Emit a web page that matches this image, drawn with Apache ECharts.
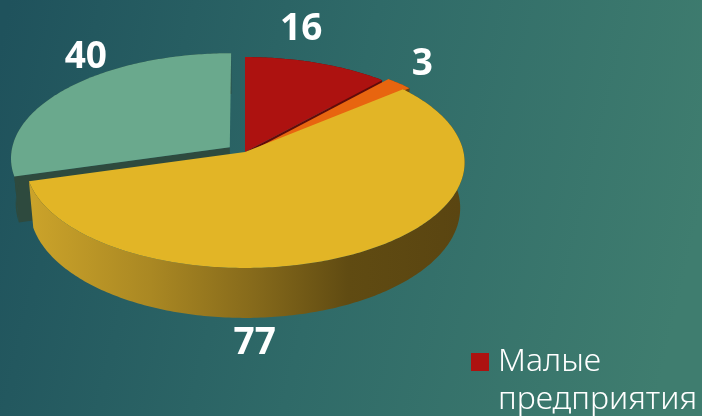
<!DOCTYPE html>
<html>
<head>
<meta charset="utf-8">
<style>html,body{margin:0;padding:0;background:#2f6a68}#c{width:702px;height:416px}</style>
<script src="https://cdn.jsdelivr.net/npm/echarts@6/dist/echarts.min.js"></script>
</head>
<body>
<div id="c"></div>
<script>
// Data, in clockwise order starting at twelve o'clock
const categories = ['Малые предприятия', 'Категория 2', 'Категория 3', 'Категория 4'];
const values = [16, 3, 77, 40];
const legendShown = ['Малые предприятия'];

// Colours
const topColors = ['#ad1210', '#e8650f', '#e2b526', '#6aa98d'];
const wallColors = ['#5f0c0a', '#6a4310', '#5a4511', '#2e4a3e'];

// Projection of the tilted disc
const CX = 245, CY = 152, A = 218.5, B = 104.4, K = 0.0995, DEPTH = 45, BOTTOM_X = 0.98;
// Explosion of each slice on the disc, and horizontal stretch
const explode = [[0, 0, 1], [0.032, -0.012, 1], [0, 0, 1], [-0.07, -0.045, 1]];
// Value labels: offset from the slice's rim midpoint
const labelOffset = [[-16, -33], [23, -19], [-102, 90], [19, -31]];
const drawOrder = [3, 0, 1, 2];
// Which end of the slice shows a radial wall
const wallAtStart = [false, false, false, true];

const total = values.reduce((a, b) => a + b, 0);
const startAngles = [];
values.reduce((s, v, i) => { startAngles[i] = s; return s + v / total * 2 * Math.PI; }, 0);

function proj(u, v, lower) {
  const d = 1 - K * v;
  let x = A * u / d, y = B * v / d;
  if (lower) { x *= BOTTOM_X; y += DEPTH / d; }
  return [CX + x, CY + y];
}
function rimPt(i, ang, lower) {
  const e = explode[i];
  return proj(Math.sin(ang) * e[2] + e[0], -Math.cos(ang) + e[1], lower);
}
function apexPt(i, lower) {
  return proj(explode[i][0], explode[i][1], lower);
}
function rim(i, a0, a1, lower) {
  const n = Math.max(2, Math.ceil((a1 - a0) / 0.015)), pts = [];
  for (let k = 0; k <= n; k++) pts.push(rimPt(i, a0 + (a1 - a0) * k / n, lower));
  return pts;
}
const yellowWallFill = {
  type: 'linear', global: true, x: 30, y: 0, x2: 460, y2: 0,
  colorStops: [
    { offset: 0, color: '#cba32a' }, { offset: 0.28, color: '#aa8823' },
    { offset: 0.52, color: '#866a1b' }, { offset: 0.74, color: '#604b12' },
    { offset: 1, color: '#5a4511' }
  ]
};
function renderSlice(i) {
  return function (params, api) {
    const val = api.value(0);
    const a0 = startAngles[i], a1 = a0 + val / total * 2 * Math.PI;
    const children = [];
    const poly = (pts, fill) => children.push({ type: 'polygon', shape: { points: pts }, style: { fill: fill } });
    const ap = apexPt(i, false), apL = apexPt(i, true);
    // radial wall at the exposed end of the slice
    const cut = wallAtStart[i] ? a0 : a1;
    if (i !== 2) poly([ap, rimPt(i, cut, false), rimPt(i, cut, true), apL], wallColors[i]);
    // outer wall
    const wf = i === 2 ? yellowWallFill : wallColors[i];
    poly(rim(i, a0, a1, false).concat(rim(i, a0, a1, true).reverse()), wf);
    // top face
    poly([ap].concat(rim(i, a0, a1, false)), topColors[i]);
    // label
    const m = rimPt(i, (a0 + a1) / 2, false);
    children.push({
      type: 'text',
      style: {
        text: String(val), x: m[0] + labelOffset[i][0], y: m[1] + labelOffset[i][1],
        fill: '#ffffff', fontSize: 37, fontWeight: 'bold', fontFamily: '"Noto Sans"',
        align: 'center', verticalAlign: 'middle'
      }
    });
    return { type: 'group', children: children };
  };
}

const chart = echarts.init(document.getElementById('c'), null, { renderer: 'canvas' });
chart.setOption({
  animation: false,
  backgroundColor: {
    type: 'linear', x: 0, y: 0.1, x2: 1, y2: 0.5,
    colorStops: [{ offset: 0, color: '#1f525c' }, { offset: 0.5, color: '#2f6a68' }, { offset: 1, color: '#3f7d6f' }]
  },
  legend: {
    data: legendShown, left: 471, top: 305, padding: 0, itemWidth: 18, itemHeight: 18,
    icon: 'rect', selectedMode: false,
    formatter: function () { return '\nМалые\nпредприятия'; },
    textStyle: {
      color: '#ffffff', fontSize: 32, fontWeight: 300, fontFamily: '"Noto Sans"',
      lineHeight: 38, padding: [0, 0, 0, 4]
    }
  },
  series: drawOrder.map(i => ({
    type: 'custom', name: categories[i], coordinateSystem: 'none',
    itemStyle: { color: topColors[i] },
    renderItem: renderSlice(i), data: [[values[i]]], silent: true, clip: false
  }))
});
</script>
</body>
</html>
